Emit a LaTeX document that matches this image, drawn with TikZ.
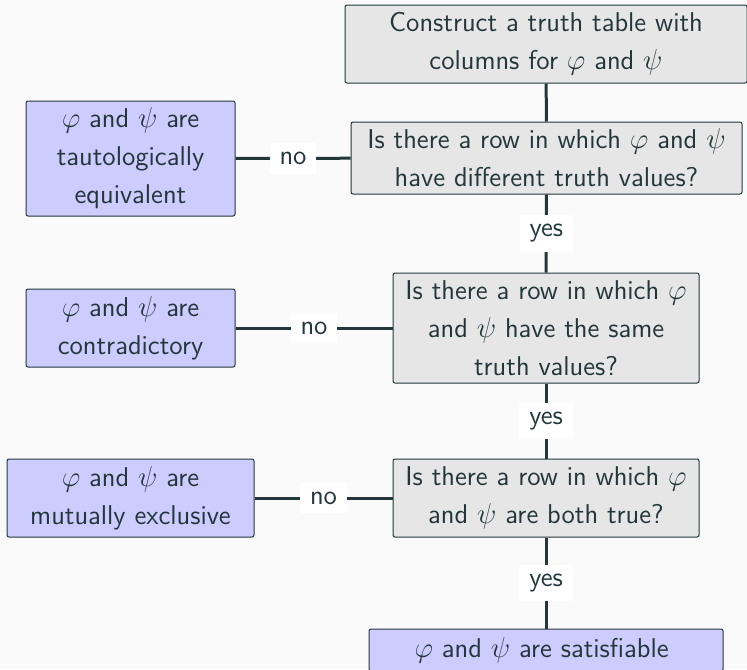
\documentclass[tikz,border=0pt]{standalone}
\usepackage{xcolor}
\usetikzlibrary{positioning}
\definecolor{ink}{HTML}{23373B}
\definecolor{pageGray}{HTML}{FAFAFA}
\definecolor{questionFill}{HTML}{E6E6E6}
\definecolor{verdictFill}{HTML}{CCCCFF}
\newcommand{\flowfont}{\sffamily\fontsize{13.6}{19}\selectfont}
\tikzset{
  question card/.style={
    draw=ink,
    fill=questionFill,
    rounded corners=1pt,
    line width=0.5pt,
    font=\flowfont,
    align=center,
    inner xsep=4pt,
    inner ysep=3pt,
    text=ink
  },
  verdict card/.style={
    question card,
    fill=verdictFill
  },
  answer label/.style={
    fill=white,
    font=\flowfont,
    inner xsep=5pt,
    inner ysep=4.5pt,
    text=ink
  },
  flow edge/.style={
    draw=ink,
    line width=1.5pt
  }
}

\begin{document}
\begin{tikzpicture}[x=0.5pt,y=-0.5pt]
  \useasboundingbox[fill=pageGray] (0,0) rectangle (747,669);

  \node[question card,minimum width=201pt,minimum height=39pt] (start) at (546,44) {
    Construct a truth table with\\
    columns for $\varphi$ and $\psi$
  };
  \node[question card,minimum width=195.5pt,minimum height=36pt] (differ) at (546.5,158) {
    Is there a row in which $\varphi$ and $\psi$\\
    have different truth values?
  };
  \node[question card,minimum width=153pt,minimum height=55pt] (same) at (546,328) {
    Is there a row in which $\varphi$\\
    and $\psi$ have the same\\
    truth values?
  };
  \node[question card,minimum width=153pt,minimum height=39pt] (both) at (546,498) {
    Is there a row in which $\varphi$\\
    and $\psi$ are both true?
  };

  \node[verdict card,minimum width=104.5pt,minimum height=57.5pt] (equiv) at (130.5,158.5) {
    $\varphi$ and $\psi$ are\\
    tautologically\\
    equivalent
  };
  \node[verdict card,minimum width=104.5pt,minimum height=39pt] (contra) at (130.5,328) {
    $\varphi$ and $\psi$ are\\
    contradictory
  };
  \node[verdict card,minimum width=123.5pt,minimum height=39pt] (exclusive) at (130.5,498) {
    $\varphi$ and $\psi$ are\\
    mutually exclusive
  };
  \node[verdict card,minimum width=177pt,minimum height=21pt] (satisfiable) at (546,650) {
    $\varphi$ and $\psi$ are satisfiable
  };

  \draw[flow edge] (start) -- (differ);
  \draw[flow edge] (differ) -- node[answer label] {yes} (same);
  \draw[flow edge] (same) -- node[answer label] {yes} (both);
  \draw[flow edge] (both) -- node[answer label] {yes} (satisfiable);
  \draw[flow edge] (differ) -- node[answer label] {no} (equiv);
  \draw[flow edge] (same) -- node[answer label] {no} (contra);
  \draw[flow edge] (both) -- node[answer label] {no} (exclusive);
\end{tikzpicture}
\end{document}
